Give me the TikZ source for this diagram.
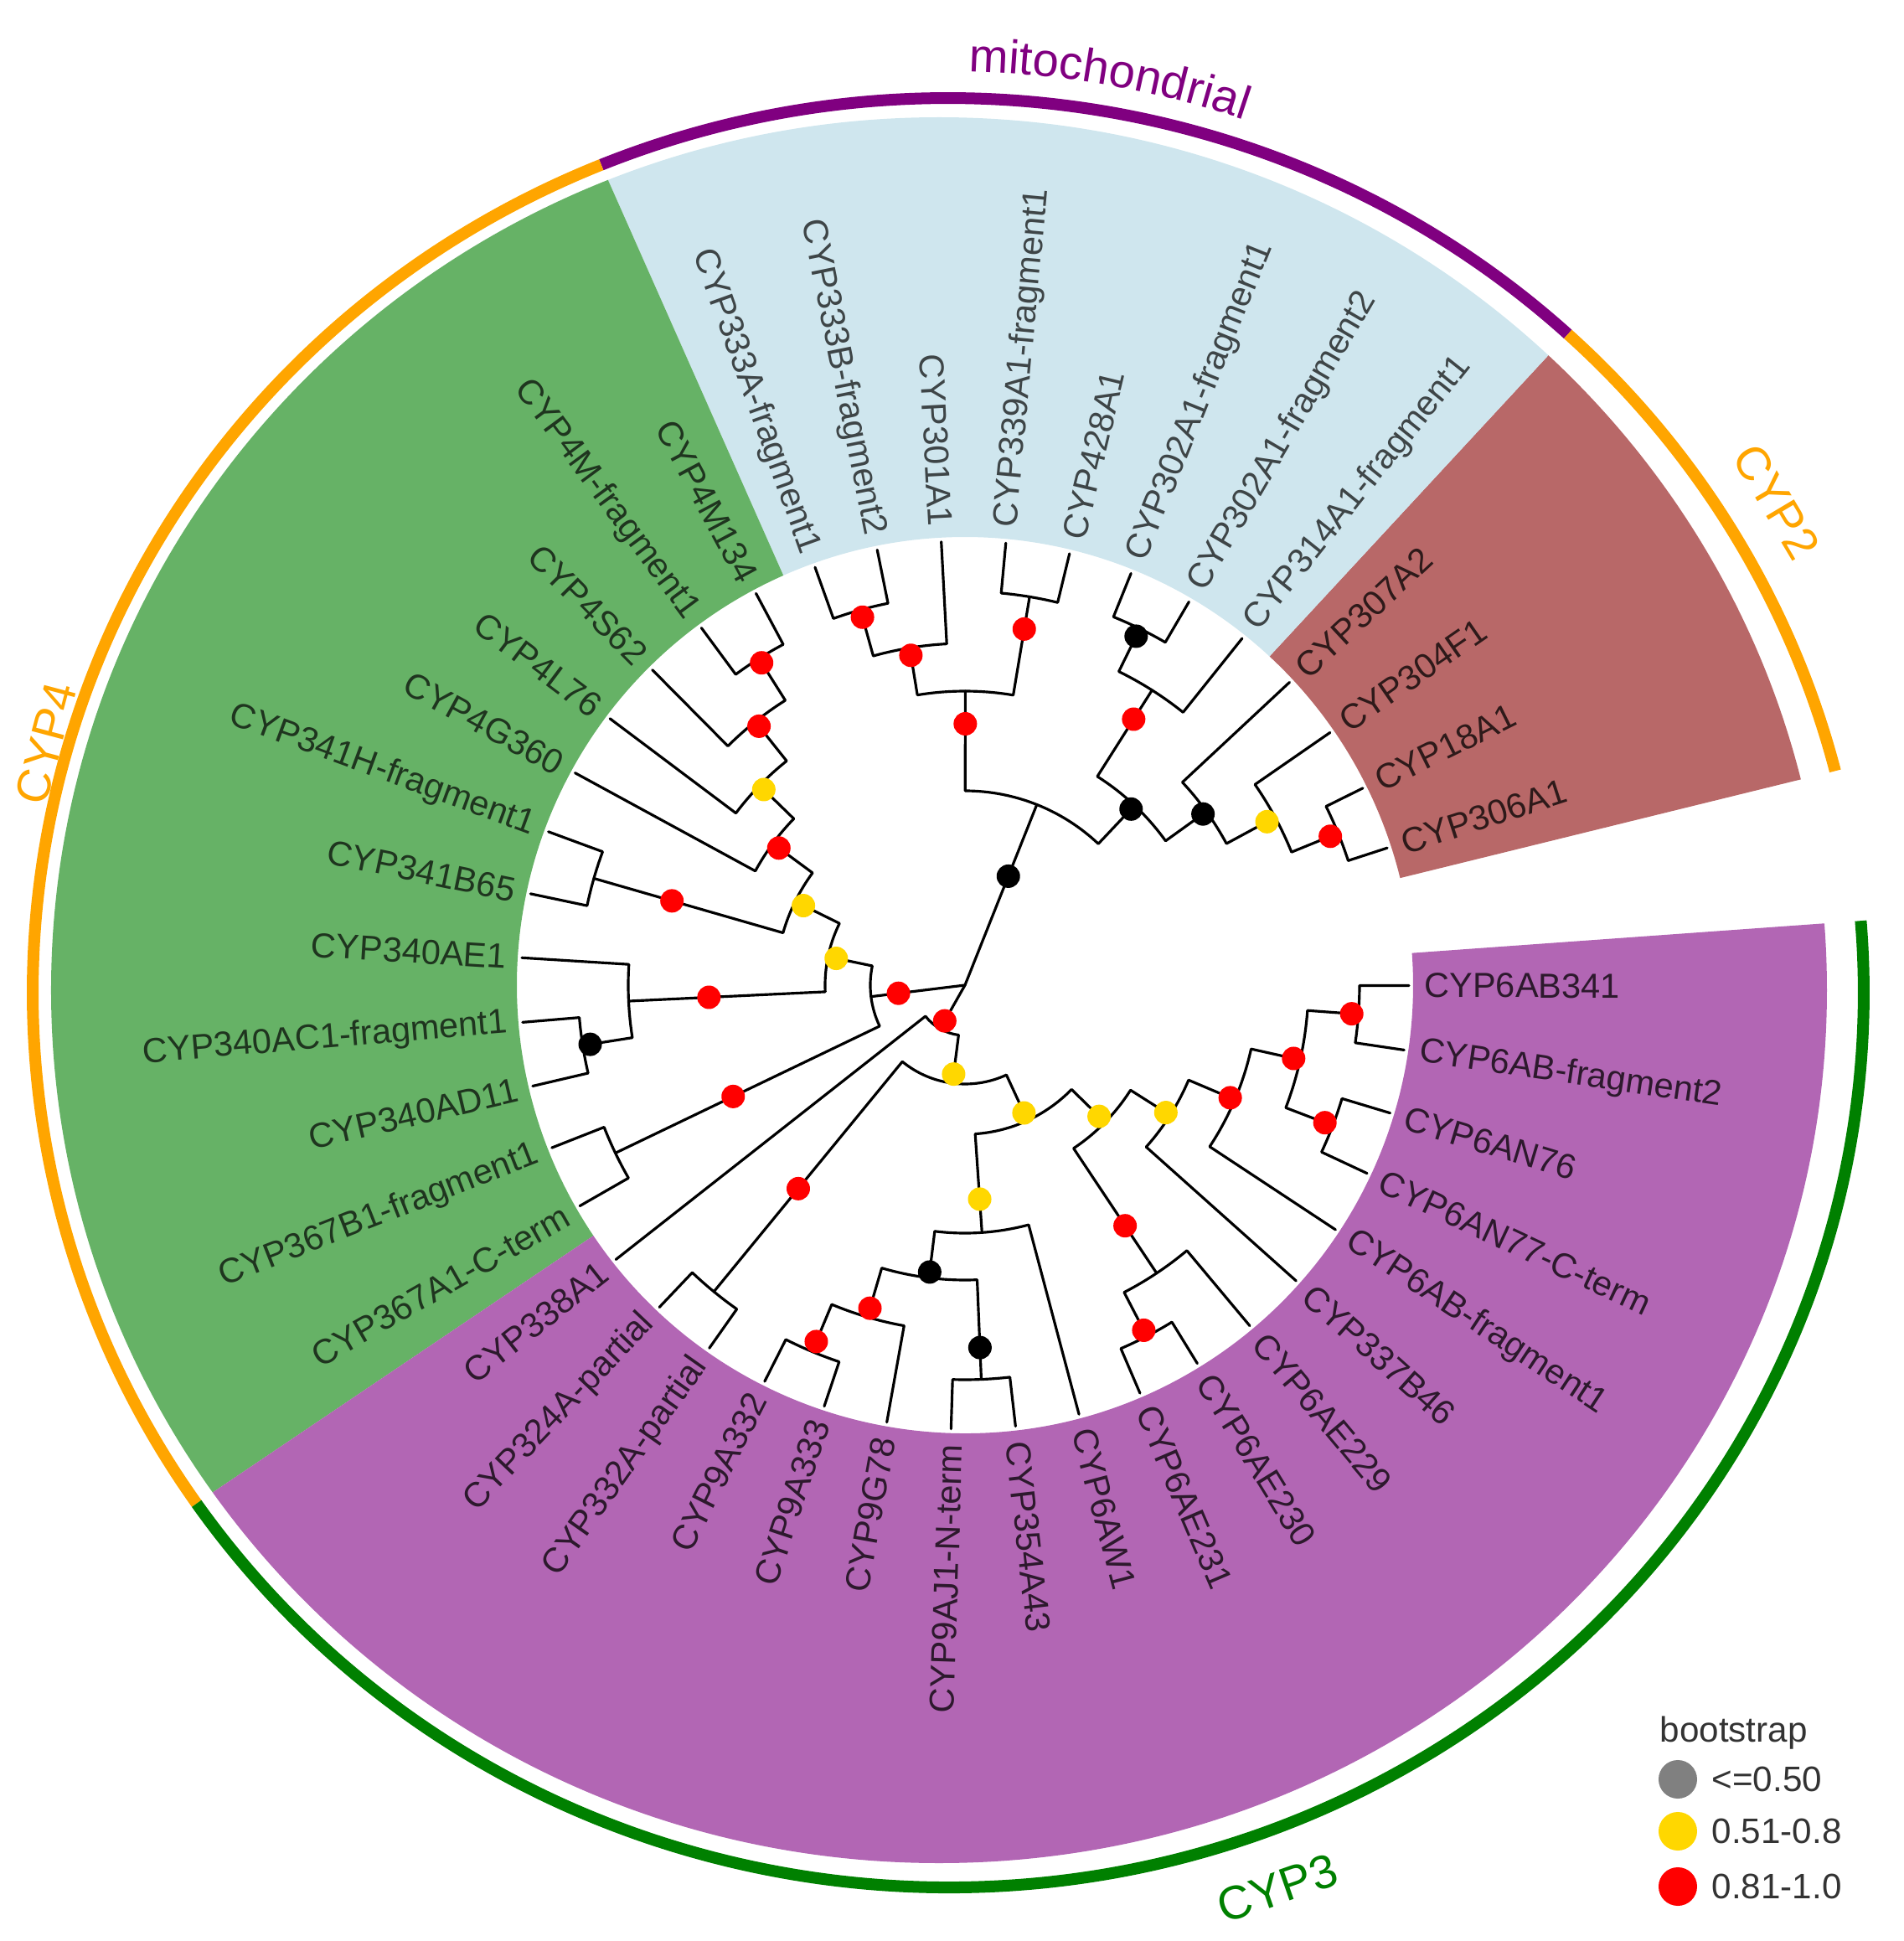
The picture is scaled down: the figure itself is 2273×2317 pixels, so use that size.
\documentclass[tikz,border=0pt]{standalone}
\usepackage{fontspec}
\setmainfont{Liberation Sans}
\usetikzlibrary{decorations.text}
\definecolor{secgreen}{HTML}{66B266}
\definecolor{secblue}{HTML}{CFE6EE}
\definecolor{secbrown}{HTML}{B86868}
\definecolor{secpurple}{HTML}{B266B4}
\definecolor{ringorange}{HTML}{FFA500}
\definecolor{ringpurple}{HTML}{800080}
\definecolor{ringgreen}{HTML}{008000}
\definecolor{dotred}{HTML}{FF0000}
\definecolor{dotyellow}{HTML}{FFD700}
\definecolor{dotgray}{HTML}{808080}
\newcommand\labfont{\fontsize{11.8}{14}\selectfont}
\newcommand\grpfont{\fontsize{16}{19}\selectfont}
\newcommand\legfont{\fontsize{12}{14}\selectfont}
% tree helpers
\newcommand\A[1]{\csname angT#1\endcsname}
\newcommand\R[1]{\csname radT#1\endcsname}
\newcommand\SetLeaf[2]{\pgfmathsetmacro\tmpang{18+8.34*(#2-1)}%
  \expandafter\let\csname angT#1\endcsname\tmpang
  \expandafter\def\csname radT#1\endcsname{530}}
\newcommand\SetNode[4]{\pgfmathsetmacro\tmpang{(\A{#2}+\A{#3})/2}%
  \expandafter\let\csname angT#1\endcsname\tmpang
  \expandafter\def\csname radT#1\endcsname{#4}}
\newcommand\Clade[1]{%
  \coordinate (#1) at (\A{#1}:\R{#1});}
\newcommand\Branch[3]{% node, child1, child2
  \draw[branch] (\A{#2}:\R{#2}) -- (\A{#2}:\R{#1})
    arc[start angle=\A{#2}, end angle=\A{#3}, radius=\R{#1}] -- (\A{#3}:\R{#3});}
\newcommand\Leaf[4]{%
  \SetLeaf{#1}{#2}%
  \pgfmathtruncatemacro\flip{and(\A{#1}>90,\A{#1}<270)}%
  \ifnum\flip=1
    \node[leaflabel, text=#4, anchor=east, rotate=\A{#1}+180] (lab#1) at (\A{#1}:548) {#3};
  \else
    \node[leaflabel, text=#4, anchor=west, rotate=\A{#1}] (lab#1) at (\A{#1}:548) {#3};
  \fi}
\newcommand\Sector[5]{\fill[#1] (#2:#4) arc[start angle=#2,end angle=#3,radius=#4]
  -- (#3:#5) arc[start angle=#3,end angle=#2,radius=#5] -- cycle;}
\newcommand\Dot[3]{\fill[#1] (\A{#2}:#3) circle[radius=14];}
\newcommand\RingArc[3]{\draw[ringarc, #1] (#2:1093 and 1068) arc[start angle=#2, end angle=#3, x radius=1093, y radius=1068];}
\begin{document}
\begin{tikzpicture}[x=0.01cm,y=0.01cm,
  branch/.style={line width=0.9pt, line cap=round, line join=round},
  leaflabel/.style={inner sep=0pt, font=\labfont},
  ringarc/.style={line width=0.14cm},
  grouplabel/.style={font=\grpfont, inner sep=0pt},
  legtext/.style={font=\legfont, text=black!80, inner sep=0pt, anchor=west},
  legdot/.style={circle, inner sep=0pt, minimum size=0.46cm}]
\useasboundingbox (-1152,-1141) rectangle (1121,1176);
% highlight sectors, cut by a common outer ellipse
\begin{scope}
\clip (-31,-6) ellipse [x radius=1060, y radius=1042];
\Sector{secbrown}{13.83}{47.19}{535}{1400}
\Sector{secblue}{47.19}{113.91}{535}{1400}
\Sector{secgreen}{113.91}{213.99}{535}{1400}
\Sector{secpurple}{213.99}{364.11}{535}{1400}
\end{scope}
% outer ring
\begin{scope}[shift={(-20,-9)}]
\RingArc{ringpurple}{47.4}{112.27}
\RingArc{ringorange}{112.27}{214.82}
\RingArc{ringgreen}{214.82}{364.61}
\RingArc{ringorange}{14.35}{47.4}
\path[decorate, decoration={text along path, text align=center,
  text={|\grpfont\color{ringpurple}|mitochondrial}}]
  (97:1100) arc[start angle=97, end angle=63, radius=1100];
\end{scope}
\node[grouplabel, text=ringorange, rotate=-59.2] (gcyp2) at (969,577) {CYP2};
\node[grouplabel, text=ringorange, rotate=75.2] (gcyp4) at (-1097,289) {CYP4};
\node[grouplabel, text=ringgreen, rotate=19.1] (gcyp3) at (373,-1078) {CYP3};
% leaves
\Leaf{L1}{1}{CYP306A1}{secbrown!25!black}
\Leaf{L2}{2}{CYP18A1}{secbrown!25!black}
\Leaf{L3}{3}{CYP304F1}{secbrown!25!black}
\Leaf{L4}{4}{CYP307A2}{secbrown!25!black}
\Leaf{L5}{5}{CYP314A1-fragment1}{secblue!30!black}
\Leaf{L6}{6}{CYP302A1-fragment2}{secblue!30!black}
\Leaf{L7}{7}{CYP302A1-fragment1}{secblue!30!black}
\Leaf{L8}{8}{CYP428A1}{secblue!30!black}
\Leaf{L9}{9}{CYP339A1-fragment1}{secblue!30!black}
\Leaf{L10}{10}{CYP301A1}{secblue!30!black}
\Leaf{L11}{11}{CYP333B-fragment2}{secblue!30!black}
\Leaf{L12}{12}{CYP333A-fragment1}{secblue!30!black}
\Leaf{L13}{13}{CYP4M134}{secgreen!30!black}
\Leaf{L14}{14}{CYP4M-fragment1}{secgreen!30!black}
\Leaf{L15}{15}{CYP4S62}{secgreen!30!black}
\Leaf{L16}{16}{CYP4L76}{secgreen!30!black}
\Leaf{L17}{17}{CYP4G360}{secgreen!30!black}
\Leaf{L18}{18}{CYP341H-fragment1}{secgreen!30!black}
\Leaf{L19}{19}{CYP341B65}{secgreen!30!black}
\Leaf{L20}{20}{CYP340AE1}{secgreen!30!black}
\Leaf{L21}{21}{CYP340AC1-fragment1}{secgreen!30!black}
\Leaf{L22}{22}{CYP340AD11}{secgreen!30!black}
\Leaf{L23}{23}{CYP367B1-fragment1}{secgreen!30!black}
\Leaf{L24}{24}{CYP367A1-C-term}{secgreen!30!black}
\Leaf{L25}{25}{CYP338A1}{secpurple!25!black}
\Leaf{L26}{26}{CYP324A-partial}{secpurple!25!black}
\Leaf{L27}{27}{CYP332A-partial}{secpurple!25!black}
\Leaf{L28}{28}{CYP9A332}{secpurple!25!black}
\Leaf{L29}{29}{CYP9A333}{secpurple!25!black}
\Leaf{L30}{30}{CYP9G78}{secpurple!25!black}
\Leaf{L31}{31}{CYP9AJ1-N-term}{secpurple!25!black}
\Leaf{L32}{32}{CYP354A43}{secpurple!25!black}
\Leaf{L33}{33}{CYP6AW1}{secpurple!25!black}
\Leaf{L34}{34}{CYP6AE231}{secpurple!25!black}
\Leaf{L35}{35}{CYP6AE230}{secpurple!25!black}
\Leaf{L36}{36}{CYP6AE229}{secpurple!25!black}
\Leaf{L37}{37}{CYP337B46}{secpurple!25!black}
\Leaf{L38}{38}{CYP6AB-fragment1}{secpurple!25!black}
\Leaf{L39}{39}{CYP6AN77-C-term}{secpurple!25!black}
\Leaf{L40}{40}{CYP6AN76}{secpurple!25!black}
\Leaf{L41}{41}{CYP6AB-fragment2}{secpurple!25!black}
\Leaf{L42}{42}{CYP6AB341}{secpurple!25!black}
% internal nodes: name, child1, child2, radius
\SetNode{a}{L1}{L2}{481}
\SetNode{b}{a}{L3}{421}
\SetNode{c}{b}{L4}{355}
\SetNode{d}{L6}{L7}{474}
\SetNode{e}{d}{L5}{417}
\SetNode{f}{e}{c}{295}
\SetNode{i}{L8}{L9}{470}
\SetNode{g}{L11}{L12}{465}
\SetNode{h}{g}{L10}{408}
\SetNode{j}{h}{i}{351}
\SetNode{k}{j}{f}{232}
\SetNode{n1}{L13}{L14}{461}
\SetNode{n2}{n1}{L15}{402}
\SetNode{n3}{n2}{L16}{342}
\SetNode{n4}{n3}{L17}{285}
\SetNode{nA}{L18}{L19}{461}
\SetNode{n5}{n4}{nA}{226}
\SetNode{n8}{L21}{L22}{462}
\SetNode{n7}{L20}{n8}{402}
\SetNode{n6}{n5}{n7}{167}
\SetNode{nB}{L23}{L24}{463}
\SetNode{ng}{n6}{nB}{113}
\SetNode{nC}{L26}{L27}{473}
\SetNode{n9A}{L28}{L29}{474}
\SetNode{n9G}{n9A}{L30}{413}
\SetNode{nAJ}{L31}{L32}{471}
\SetNode{n9X}{n9G}{nAJ}{352}
\SetNode{nAW}{n9X}{L33}{296}
\SetNode{nAE1}{L34}{L35}{472}
\SetNode{nAE2}{nAE1}{L36}{413}
\SetNode{nAN}{L39}{L40}{470}
\SetNode{nAB}{L41}{L42}{471}
\SetNode{nW}{nAN}{nAB}{410}
\SetNode{nZ}{L38}{nW}{350}
\SetNode{nY}{L37}{nZ}{290}
\SetNode{nX}{nAE2}{nY}{234}
\SetNode{nP}{nAW}{nX}{178}
\SetNode{npur}{nC}{nP}{118}
\SetNode{npurA}{L25}{npur}{60}
% draw branches
\Branch{a}{L1}{L2}\Branch{b}{a}{L3}\Branch{c}{b}{L4}\Branch{d}{L6}{L7}
\Branch{e}{d}{L5}\Branch{f}{e}{c}\Branch{i}{L8}{L9}\Branch{g}{L11}{L12}
\Branch{h}{g}{L10}\Branch{j}{h}{i}\Branch{k}{j}{f}
\Branch{n1}{L13}{L14}\Branch{n2}{n1}{L15}\Branch{n3}{n2}{L16}\Branch{n4}{n3}{L17}
\Branch{nA}{L18}{L19}\Branch{n5}{n4}{nA}\Branch{n8}{L21}{L22}\Branch{n7}{L20}{n8}
\Branch{n6}{n5}{n7}\Branch{nB}{L23}{L24}\Branch{ng}{n6}{nB}
\Branch{nC}{L26}{L27}\Branch{n9A}{L28}{L29}\Branch{n9G}{n9A}{L30}\Branch{nAJ}{L31}{L32}
\Branch{n9X}{n9G}{nAJ}\Branch{nAW}{n9X}{L33}\Branch{nAE1}{L34}{L35}\Branch{nAE2}{nAE1}{L36}
\Branch{nAN}{L39}{L40}\Branch{nAB}{L41}{L42}\Branch{nW}{nAN}{nAB}\Branch{nZ}{L38}{nW}
\Branch{nY}{L37}{nZ}\Branch{nX}{nAE2}{nY}\Branch{nP}{nAW}{nX}\Branch{npur}{nC}{nP}
\Branch{npurA}{L25}{npur}
\coordinate (root) at (0,0);
\foreach \n in {a,b,c,d,e,f,g,h,i,j,k,n1,n2,n3,n4,nA,n5,n6,n7,n8,nB,ng,nC,n9A,n9G,nAJ,n9X,nAW,nAE1,nAE2,nAN,nAB,nW,nZ,nY,nX,nP,npur,npurA}{\Clade{\n}}
\draw[branch] (root) -- (k);
\draw[branch] (root) -- (ng);
\draw[branch] (root) -- (npurA);
% bootstrap dots
\Dot{dotred}{a}{471}\Dot{dotyellow}{b}{410}\Dot{black}{c}{350}\Dot{black}{d}{464}
\Dot{dotred}{e}{376}\Dot{black}{f}{289}\Dot{dotred}{g}{456}\Dot{dotred}{h}{399}
\Dot{dotred}{i}{431}\Dot{dotred}{j}{312}\Dot{black}{k}{140}
\Dot{dotred}{n1}{455}\Dot{dotred}{n2}{395}\Dot{dotyellow}{n3}{335}\Dot{dotred}{n4}{276}
\Dot{dotred}{nA}{364}\Dot{dotyellow}{n5}{215}\Dot{dotyellow}{n6}{157}\Dot{dotred}{n7}{306}
\Dot{black}{n8}{453}\Dot{dotred}{nB}{307}\Dot{dotred}{ng}{80}
\Dot{dotred}{npurA}{49}\Dot{dotyellow}{npur}{107}\Dot{dotred}{nC}{314}\Dot{dotyellow}{nP}{168}
\Dot{dotyellow}{nAW}{256}\Dot{black}{n9X}{345}\Dot{dotred}{n9G}{402}\Dot{dotred}{n9A}{461}
\Dot{black}{nAJ}{433}\Dot{dotyellow}{nX}{224}\Dot{dotyellow}{nY}{284}\Dot{dotred}{nZ}{344}
\Dot{dotred}{nW}{402}\Dot{dotred}{nAN}{460}\Dot{dotred}{nAB}{463}\Dot{dotred}{nAE2}{345}
\Dot{dotred}{nAE1}{464}
% legend
\node[legtext] (legtitle) at (829,-893) {bootstrap};
\node[legdot, fill=dotgray] (leggray) at (851,-948) {};
\node[legdot, fill=dotyellow] (legyellow) at (851,-1010) {};
\node[legdot, fill=dotred] (legred) at (851,-1076) {};
\node[legtext] (legt1) at (891,-948) {<=0.50};
\node[legtext] (legt2) at (891,-1010) {0.51-0.8};
\node[legtext] (legt3) at (891,-1076) {0.81-1.0};
\end{tikzpicture}
\end{document}
